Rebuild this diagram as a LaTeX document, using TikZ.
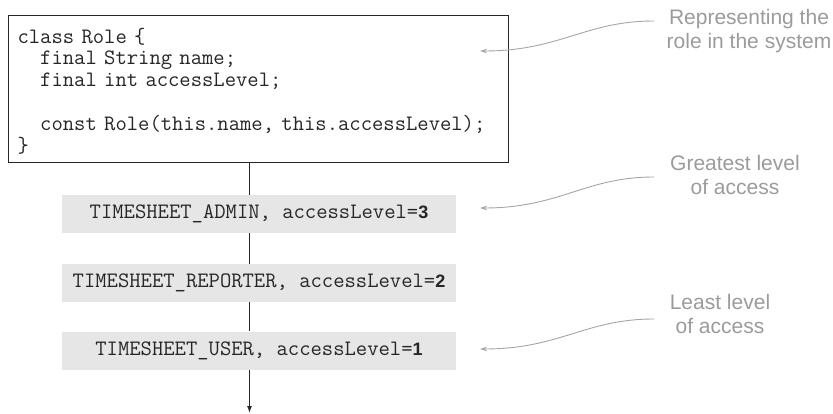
\documentclass[tikz,border=0pt]{standalone}
\usepackage{fontspec}
\setmainfont{Liberation Sans}
\setsansfont{Liberation Sans}
\usetikzlibrary{arrows.meta}
\definecolor{boxgray}{HTML}{E6E6E7}
\definecolor{notegray}{HTML}{9B9B9B}
\definecolor{arrgray}{HTML}{A5A5A5}
\definecolor{ink}{HTML}{262626}
\newcommand{\codesize}{\fontsize{22}{21.8}\selectfont\ttfamily\frenchspacing}
\newcommand{\dig}[1]{{\sffamily\bfseries\fontsize{18}{20}\selectfont #1}}
\tikzset{
 codebox/.style={draw=ink, line width=1.1pt, align=left, text width=482pt, inner xsep=9pt, inner ysep=0pt, minimum height=147pt, font=\codesize, text=ink, anchor=north west},
 rolebox/.style={fill=boxgray, minimum width=394pt, minimum height=38pt, inner sep=0pt, font=\codesize, text=ink},
 note/.style={align=center, text=notegray, font=\fontsize{21}{24.5}\selectfont\sffamily, inner sep=0pt},
 notearrow/.style={draw=arrgray, line width=0.9pt, -{Stealth[length=7pt,width=4.5pt]}},
 flow/.style={draw=ink, line width=1.1pt}
}
\begin{document}
\begin{tikzpicture}[x=1pt,y=-1pt]
\useasboundingbox (0,0) rectangle (833,414);
\node[codebox] (code) at (8,15) {\rule{0pt}{19pt}class Role \{\\
\phantom{xx}final String name;\\
\phantom{xx}final int accessLevel;\\[21.8pt]
\phantom{xx}const Role(this.name, this.accessLevel);\\
\}};
\node[rolebox] (admin) at (259,214) {TIMESHEET\_ADMIN, accessLevel=\dig{3}};
\node[rolebox] (reporter) at (259,283) {TIMESHEET\_REPORTER, accessLevel=\dig{2}};
\node[rolebox] (user) at (259,350.5) {TIMESHEET\_USER, accessLevel=\dig{1}};
\coordinate (end) at (249.5,413);
\draw[flow] (code.south -| end) -- (admin.north -| end);
\draw[flow] (admin.south -| end) -- (reporter.north -| end);
\draw[flow] (reporter.south -| end) -- (user.north -| end);
\draw[flow, -{Latex[length=7pt,width=5pt]}] (user.south -| end) -- (end);
\node[note] (n1) at (749,31) {Representing the\\role in the system};
\node[note] (n2) at (735,175) {Greatest level\\of access};
\node[note] (n3) at (720,314) {Least level\\of access};
\coordinate (s1) at (654,21);
\coordinate (t1) at (480,51);
\coordinate (s2) at (654,177);
\coordinate (t2) at (480,208);
\coordinate (s3) at (654,319);
\coordinate (t3) at (480,349);
\draw[notearrow] (s1) .. controls (585,21) and (560,51) .. (t1);
\draw[notearrow] (s2) .. controls (585,177) and (560,208) .. (t2);
\draw[notearrow] (s3) .. controls (585,319) and (560,349) .. (t3);
\end{tikzpicture}
\end{document}
